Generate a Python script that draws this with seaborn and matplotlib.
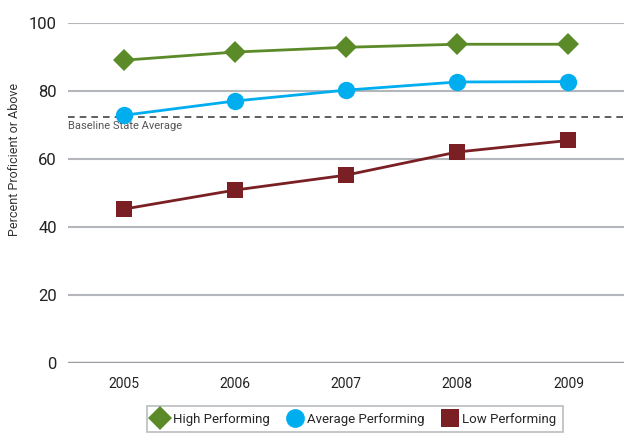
import matplotlib
matplotlib.use("Agg")
import matplotlib.pyplot as plt
from matplotlib.lines import Line2D
import pandas as pd
import seaborn as sns

# -------------------------
# Data
# -------------------------
years = ["2005", "2006", "2007", "2008", "2009"]
high = [89.1, 91.5, 92.9, 93.8, 93.8]
average = [72.9, 77.1, 80.3, 82.7, 82.8]
low = [45.3, 50.9, 55.3, 62.1, 65.5]
baseline = 72.4
groups = ["High Performing", "Average Performing", "Low Performing"]

df = pd.DataFrame({
    "year": years * 3,
    "pct": high + average + low,
    "group": [g for g in groups for _ in years],
})

colors = {"High Performing": "#5b8a29",
          "Average Performing": "#00aeef",
          "Low Performing": "#7a2024"}
markers = {"High Performing": "D",
           "Average Performing": "o",
           "Low Performing": "s"}
sizes = {"High Performing": 11, "Average Performing": 12.5, "Low Performing": 11.5}

sns.set_style("white")
plt.rcParams["font.family"] = ["Roboto", "DejaVu Sans"]

fig = plt.figure(figsize=(6.24, 4.37), dpi=100)
ax = fig.add_axes([0.109, 0.169, 0.891, 0.778])

# gridlines
for v in [20, 40, 60, 80, 100]:
    ax.axhline(v, color="#b3b7bb", lw=1.5, zorder=0)
ax.axhline(0, color="#9a9ea3", lw=2.5, zorder=0)

# baseline
ax.axhline(baseline, color="#444444", lw=1.2, ls=(0, (4, 3)), zorder=1)
ax.text(-0.5, baseline - 1.3, "Baseline State Average", ha="left", va="top",
        fontsize=8, color="#555555")

sns.lineplot(data=df, x="year", y="pct", hue="group", style="group",
             palette=colors, markers=markers, dashes=False, linewidth=2,
             markeredgewidth=0, legend=False, ax=ax, zorder=3)

for line, g in zip(ax.get_lines()[-3:], groups):
    line.set_markersize(sizes[g])

ax.set_xlim(-0.5, 4.5)
ax.set_ylim(0, 100)
ax.set_yticks([0, 20, 40, 60, 80, 100])
ax.tick_params(axis="y", labelsize=12, pad=8, length=0, labelcolor="#222222")
ax.tick_params(axis="x", labelsize=10, pad=10, length=0, labelcolor="#222222")
ax.set_xlabel("")
ax.set_ylabel("Percent Proficient or Above", fontsize=9, color="#333333")
ax.yaxis.set_label_coords(-0.085, 0.6)
sns.despine(ax=ax, left=True, bottom=True, top=True, right=True)

handles = [Line2D([], [], ls="none", marker=markers[g], color=colors[g],
                  markersize=sizes[g] + 1, markeredgewidth=0) for g in groups]
leg = fig.legend(handles, groups, loc="center", bbox_to_anchor=(0.569, 0.041),
                 ncol=3, frameon=True, fontsize=9.5, fancybox=False,
                 handlelength=1.0, handletextpad=0.45, columnspacing=1.4,
                 borderpad=0.5)
leg.get_frame().set_edgecolor("#a9adb1")
leg.get_frame().set_linewidth(1.2)

fig.savefig("out.png", dpi=100)
